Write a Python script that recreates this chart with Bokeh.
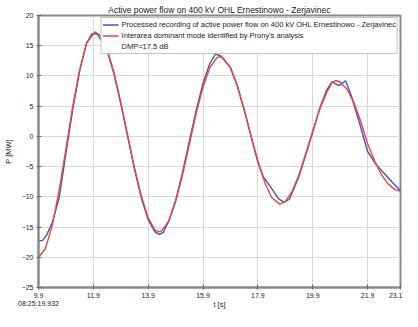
from bokeh.plotting import figure
from bokeh.models import Range1d, FixedTicker, Legend, LegendItem
from bokeh.embed import file_html
from bokeh.resources import INLINE

# ---- data ----
t_meas = [9.9, 10.05, 10.2, 10.4, 10.65, 10.9, 11.15, 11.4, 11.65, 11.85, 12.05,
          12.4, 12.65, 12.9, 13.15, 13.4, 13.65, 13.9, 14.15, 14.3, 14.45, 14.65,
          14.9, 15.15, 15.4, 15.65, 15.9, 16.15, 16.35, 16.55, 16.9, 17.15, 17.4,
          17.65, 17.9, 18.1, 18.4, 18.65, 18.85, 19.05, 19.4, 19.65, 19.9, 20.15,
          20.4, 20.6, 20.85, 21.1, 21.3, 21.6, 21.9, 22.2, 22.5, 22.8, 23.1]
p_meas = [-17.3, -17.2, -16.3, -14.3, -10.2, -2.8, 4.5, 10.8, 15.4, 17.0, 16.9,
          14.2, 10.4, 5.4, 0.0, -5.4, -10.2, -13.8, -15.8, -16.2, -15.9, -14.0,
          -10.6, -6.0, -0.8, 4.3, 8.8, 12.1, 13.6, 13.3, 11.4, 8.4, 4.4,
          0.0, -4.3, -6.7, -8.6, -10.3, -10.9, -10.4, -6.6, -3.0, 0.7, 4.6,
          7.6, 9.0, 8.4, 9.2, 6.8, 2.3, -2.5, -4.6, -6.1, -7.6, -9.0]

t_mode = [9.9, 10.15, 10.4, 10.65, 10.9, 11.15, 11.4, 11.65, 11.95, 12.15, 12.4,
          12.65, 12.9, 13.15, 13.4, 13.65, 13.9, 14.15, 14.3, 14.4, 14.65, 14.9,
          15.15, 15.4, 15.65, 15.9, 16.15, 16.4, 16.5, 16.65, 16.9, 17.15, 17.4,
          17.65, 17.9, 18.15, 18.4, 18.7, 18.9, 19.15, 19.4, 19.65, 19.9, 20.15,
          20.4, 20.6, 20.75, 20.9, 21.15, 21.4, 21.65, 21.9, 22.15, 22.4, 22.65,
          22.9, 23.1]
p_mode = [-20.0, -18.6, -14.8, -9.0, -2.1, 5.0, 11.0, 15.4, 17.3, 16.7, 14.4,
          10.6, 5.6, 0.2, -5.2, -9.9, -13.5, -15.5, -15.8, -15.6, -14.0, -10.8,
          -6.4, -1.3, 3.8, 8.2, 11.4, 13.0, 13.2, 12.9, 11.3, 8.3, 4.4,
          0.1, -4.1, -7.6, -10.1, -11.2, -10.8, -9.1, -6.3, -2.8, 0.9, 4.4,
          7.2, 8.9, 9.25, 9.0, 7.8, 5.6, 2.5, -1.2, -4.0, -6.3, -7.9,
          -8.8, -9.1]

x_ticks = [9.9, 11.9, 13.9, 15.9, 17.9, 19.9, 21.9, 23.1]
y_ticks = [-25, -20, -15, -10, -5, 0, 5, 10, 15, 20]
start_stamp = "08:25:19.932"

title = "Active power flow on 400 kV OHL Ernestinowo - Zerjavinec"
label_meas = "Processed recording of active power flow on 400 kV OHL Ernestinowo - Zerjavinec"
label_mode = "Interarea dominant mode identified by Prony's analysis"
label_extra = "DMP=17.5 dB"

FONT = "Liberation Sans"
AXIS_GREY = "#8a8a8a"

p = figure(width=402, height=311, output_backend="svg", toolbar_location=None,
           x_range=Range1d(9.9, 23.1), y_range=Range1d(-25, 20),
           min_border_left=32, min_border_right=2, min_border_top=15,
           min_border_bottom=20)

p.title.text = title
p.title.align = "center"
p.title.text_font = FONT
p.title.text_font_size = "8.5px"
p.title.text_font_style = "normal"
p.title.text_color = "#222222"
p.title.standoff = 2

p.outline_line_color = AXIS_GREY
p.outline_line_width = 2

for ax in (p.xaxis[0], p.yaxis[0]):
    ax.axis_line_color = AXIS_GREY
    ax.axis_line_width = 2
    ax.major_tick_line_color = "#666666"
    ax.major_tick_in = 3
    ax.major_tick_out = 2
    ax.minor_tick_line_color = None
    ax.major_label_text_font = FONT
    ax.major_label_text_font_size = "7px"
    ax.major_label_text_color = "#222222"
    ax.axis_label_text_font = FONT
    ax.axis_label_text_font_size = "7.5px"
    ax.axis_label_text_font_style = "normal"
    ax.axis_label_text_color = "#222222"

p.xaxis.ticker = FixedTicker(ticks=x_ticks)
p.xaxis.major_label_overrides = {9.9: "9.9\n" + start_stamp}
p.xaxis.axis_label = "t [s]"
p.xaxis.axis_label_standoff = -10
p.xaxis.major_label_standoff = 2
p.yaxis.ticker = FixedTicker(ticks=y_ticks)
p.yaxis.axis_label = "P [MW]"
p.yaxis.axis_label_standoff = 6
p.yaxis.major_label_standoff = 3

p.xgrid.grid_line_color = "#d8d8d8"
p.ygrid.grid_line_color = "#d8d8d8"

r1 = p.line(t_meas, p_meas, line_color="#4152c4", line_width=1.4)
r2 = p.line(t_mode, p_mode, line_color="#e8473c", line_width=1.4)
r3 = p.line(t_mode, p_mode, line_alpha=0)

legend = Legend(items=[LegendItem(label=label_meas, renderers=[r1]),
                       LegendItem(label=label_mode, renderers=[r2]),
                       LegendItem(label=label_extra, renderers=[r3])],
                location="top_right")
legend.label_text_font = FONT
legend.label_text_font_size = "7.5px"
legend.label_text_color = "#222222"
legend.label_height = 11
legend.glyph_height = 11
legend.glyph_width = 16
legend.spacing = 0
legend.padding = 1
legend.margin = 2
legend.label_standoff = 3
legend.border_line_color = "#888888"
legend.border_line_width = 1.5
legend.background_fill_alpha = 1
p.add_layout(legend)

open("out.html", "w").write(file_html(p, INLINE))
